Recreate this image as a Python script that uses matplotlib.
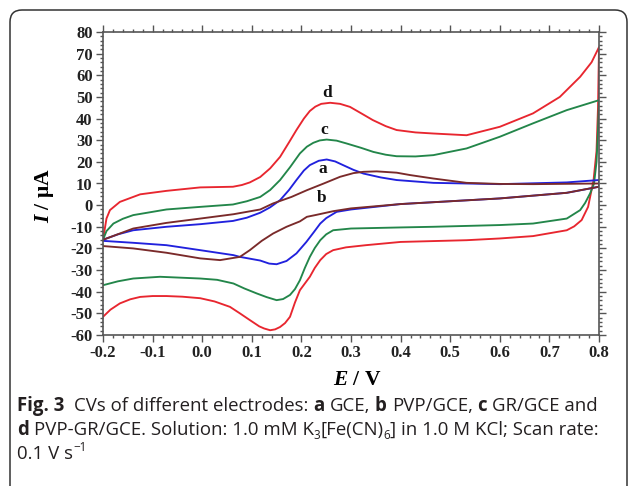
import matplotlib
matplotlib.use('Agg')
import matplotlib.pyplot as plt
from matplotlib.patches import FancyBboxPatch
from matplotlib.ticker import AutoMinorLocator
from matplotlib.transforms import IdentityTransform

plt.rcParams['axes.unicode_minus'] = False
plt.rcParams['mathtext.fontset'] = 'custom'
plt.rcParams['mathtext.it'] = 'Liberation Serif:italic:bold'
plt.rcParams['mathtext.rm'] = 'Liberation Serif:bold'

# ---- data (E in V, I in uA) ----
# d: PVP-GR/GCE (red)
d_E_fwd = [-0.2, -0.193, -0.186, -0.166, -0.125, -0.072, -0.004, 0.062, 0.08, 0.096, 0.117, 0.137,
           0.157, 0.175, 0.19, 0.205, 0.217, 0.228, 0.24, 0.258, 0.278, 0.298, 0.32, 0.344, 0.37,
           0.392, 0.43, 0.466, 0.533, 0.6, 0.667, 0.721, 0.762, 0.785, 0.8]
d_I_fwd = [-16, -6.2, -2.3, 1.5, 5.0, 6.6, 8.2, 8.5, 9.3, 10.5, 13, 17,
           22.3, 29, 34.7, 40, 43.5, 45.5, 46.8, 47.3, 46.8, 45.4, 42.5, 39.3, 36.5,
           34.7, 33.6, 33.1, 32.3, 36.2, 42.4, 50, 59.3, 66, 73]
d_E_rev = [0.8, 0.798, 0.795, 0.789, 0.778, 0.765, 0.75, 0.735, 0.667, 0.6, 0.533, 0.4, 0.33, 0.29,
           0.264, 0.25, 0.238, 0.227, 0.217, 0.207, 0.197, 0.187, 0.177, 0.167, 0.157, 0.147, 0.137,
           0.125, 0.115, 0.096, 0.076, 0.056, 0.025, -0.004, -0.04, -0.072, -0.1, -0.125, -0.145,
           -0.166, -0.185, -0.2]
d_I_rev = [73, 45, 25, 11.5, -0.8, -6.9, -9.8, -11.6, -14.3, -15.4, -16.2, -17, -18.5, -19.5,
           -20.8, -22.6, -25.4, -29, -33.1, -36.2, -39.3, -45, -51.6, -54.5, -56.3, -57.4, -57.8,
           -57, -56, -53.1, -50, -47, -44.5, -43, -42.3, -42, -42, -42.4, -43.5,
           -45.4, -48.3, -51.6]

# c: GR/GCE (green)
c_E_fwd = [-0.2, -0.193, -0.179, -0.16, -0.139, -0.072, -0.004, 0.062, 0.09, 0.117, 0.137, 0.157,
           0.177, 0.197, 0.211, 0.224, 0.237, 0.251, 0.271, 0.291, 0.32, 0.345, 0.37, 0.392, 0.43,
           0.466, 0.533, 0.6, 0.667, 0.735, 0.8]
c_I_fwd = [-16, -12, -8.5, -6.3, -4.6, -2, -0.8, 0.3, 1.8, 3.8, 7, 11.6,
           17.5, 23.9, 27, 28.8, 29.9, 30.3, 29.8, 28.5, 26.5, 24.6, 23.3, 22.6, 22.5,
           23.1, 26.2, 31.6, 37.8, 43.9, 48.5]
c_E_rev = [0.8, 0.798, 0.795, 0.79, 0.782, 0.772, 0.762, 0.735, 0.667, 0.6, 0.466, 0.4, 0.3, 0.264,
           0.25, 0.238, 0.227, 0.217, 0.207, 0.197, 0.187, 0.177, 0.163, 0.15, 0.13, 0.11, 0.085,
           0.063, 0.03, -0.004, -0.085, -0.139, -0.17, -0.2]
c_I_rev = [48.5, 35, 20, 10, 5.4, 1, -2.3, -6.2, -8.5, -9.2, -10, -10.3, -10.8, -11.6,
           -13.5, -16.2, -19.8, -23.9, -29, -34.7, -38.8, -41.5, -43.4, -43.9, -42.5, -40.8, -38.5,
           -36.2, -34.5, -33.9, -33.1, -33.9, -35.2, -37]

# a: GCE (blue)
a_E_fwd = [-0.2, -0.17, -0.139, -0.072, -0.004, 0.062, 0.09, 0.117, 0.137, 0.157, 0.175, 0.19,
           0.205, 0.217, 0.235, 0.251, 0.268, 0.284, 0.305, 0.325, 0.36, 0.392, 0.466, 0.6, 0.735,
           0.8]
a_I_fwd = [-16, -13.5, -11.6, -10, -8.8, -7.3, -5.8, -3.5, -1, 2.3, 7, 11.6,
           16, 18.5, 20.5, 21.1, 20.2, 18.5, 16.3, 14.6, 12.8, 11.6, 10.3, 9.7, 10.5,
           11.6]
a_E_rev = [0.8, 0.735, 0.6, 0.5, 0.4, 0.3, 0.271, 0.25, 0.238, 0.225, 0.21, 0.19, 0.17, 0.15,
           0.135, 0.117, 0.076, 0.063, -0.004, -0.072, -0.139, -0.2]
a_I_rev = [8.5, 5.7, 3.1, 1.8, 0.5, -2, -3.1, -6, -8.5, -12.5, -17, -22.3, -25.8, -27.3,
           -27, -25.6, -23.9, -23.1, -20.8, -18.5, -17.4, -16.5]

# b: PVP/GCE (brown)
b_E_fwd = [-0.2, -0.139, -0.072, -0.004, 0.063, 0.117, 0.143, 0.18, 0.211, 0.245, 0.278, 0.305,
           0.325, 0.352, 0.392, 0.419, 0.466, 0.533, 0.6, 0.667, 0.8]
b_I_fwd = [-16, -10.8, -8.2, -6.2, -4.2, -2, 0.8, 3.8, 6.9, 10, 13.1, 14.8,
           15.4, 15.6, 15.0, 13.9, 12.3, 10.3, 9.8, 9.7, 10]
b_E_rev = [0.8, 0.735, 0.6, 0.5, 0.4, 0.3, 0.264, 0.23, 0.211, 0.197, 0.17, 0.143, 0.12, 0.096,
           0.076, 0.036, -0.004, -0.072, -0.139, -0.2]
b_I_rev = [8.5, 5.7, 3.1, 1.8, 0.5, -1.5, -2.8, -4.5, -5.4, -7.5, -10, -13.1, -16.5, -20.8,
           -23.9, -25.4, -24.6, -22, -20, -18.9]

curves = [
    ('d', '#e8262f', d_E_fwd + d_E_rev, d_I_fwd + d_I_rev, (0.251, 51.6)),
    ('c', '#23864a', c_E_fwd + c_E_rev, c_I_fwd + c_I_rev, (0.246, 34.7)),
    ('a', '#2121dd', a_E_fwd + a_E_rev, a_I_fwd + a_I_rev, (0.244, 16.5)),
    ('b', '#7a2a2a', b_E_fwd + b_E_rev, b_I_fwd + b_I_rev, (0.241, 3.1)),
]

x_ticks = [-0.2, -0.1, 0.0, 0.1, 0.2, 0.3, 0.4, 0.5, 0.6, 0.7, 0.8]
x_labels = ['-0.2', '-0.1', '0.0', '0.1', '0.2', '0.3', '0.4', '0.5', '0.6', '0.7', '0.8']
y_ticks = list(range(-60, 81, 10))

caption = [
    [('Fig. 3  ', 'bold', ''), ('CVs of different electrodes: ', 'normal', ''), ('a ', 'bold', ''),
     ('GCE, ', 'normal', ''), ('b ', 'bold', ''), ('PVP/GCE, ', 'normal', ''), ('c ', 'bold', ''),
     ('GR/GCE and', 'normal', '')],
    [('d ', 'bold', ''), ('PVP-GR/GCE. Solution: 1.0 mM K', 'normal', ''), ('3', 'normal', 'sub'),
     ('[Fe(CN)', 'normal', ''), ('6', 'normal', 'sub'), ('] in 1.0 M KCl; Scan rate:', 'normal', '')],
    [('0.1 V s', 'normal', ''), ('\u22121', 'normal', 'sup')],
]

SERIF = 'Liberation Serif'
CAP_FONT = 'Open Sans'
CAP_COLOR = '#231f20'

fig = plt.figure(figsize=(6.3, 4.86), dpi=100)
ax = fig.add_axes([103 / 630, 1 - 335 / 486, 496 / 630, 303 / 486])

for name, color, E, I, lab in curves:
    ax.plot(E, I, color=color, lw=1.35, solid_joinstyle='round')
    ax.text(lab[0], lab[1], name, fontsize=12.5, fontweight='bold', family=SERIF,
            ha='center', va='center', color='#111111')

ax.set_xlim(-0.2, 0.8)
ax.set_ylim(-60, 80)
ax.set_xticks(x_ticks)
ax.set_xticklabels(x_labels)
ax.set_yticks(y_ticks)
ax.xaxis.set_minor_locator(AutoMinorLocator(5))
ax.yaxis.set_minor_locator(AutoMinorLocator(5))
ax.tick_params(which='both', direction='out', top=True, right=True, color='#555555', width=1)
ax.tick_params(which='major', length=5, labelsize=12, pad=2.5)
ax.tick_params(which='minor', length=2.5)
for lbl in ax.get_xticklabels() + ax.get_yticklabels():
    lbl.set_family(SERIF)
    lbl.set_fontweight('bold')
    lbl.set_color('#222222')
for sp in ax.spines.values():
    sp.set_color('#555555')
    sp.set_linewidth(1.2)

ax.text(0.512, -0.15, r'$E$ / V', transform=ax.transAxes, ha='center', va='center',
        fontsize=15.5, fontweight='bold', family=SERIF)
ax.text(-0.118, 0.46, r'$I$ / μA', transform=ax.transAxes, ha='center', va='center',
        fontsize=15.5, fontweight='bold', family=SERIF, rotation=90)

# rounded frame around figure + caption (open at the bottom)
frame = FancyBboxPatch((10, -30), 617, 486 - 10 + 30, boxstyle='round,pad=0,rounding_size=12',
                       transform=IdentityTransform(), fill=False, ec='#333333', lw=1.1)
fig.patches.append(frame)

renderer = fig.canvas.get_renderer()


def chunk_texts(line, x, y, size, draw=True):
    probe_a = fig.text(0, 0, 'aa', fontsize=size, family=CAP_FONT, transform=IdentityTransform())
    probe_b = fig.text(0, 0, 'a a', fontsize=size, family=CAP_FONT, transform=IdentityTransform())
    space_w = probe_b.get_window_extent(renderer).width - probe_a.get_window_extent(renderer).width
    probe_a.remove()
    probe_b.remove()
    px = size * 100 / 72
    made = []
    for txt, weight, kind in line:
        core = txt.rstrip(' ')
        n_sp = len(txt) - len(core)
        fs = size
        dy = 0
        if kind == 'sub':
            fs = size * 0.62
            dy = -0.22 * px
        elif kind == 'sup':
            fs = size * 0.62
            dy = 0.42 * px
        t = fig.text(x, y + dy, core, fontsize=fs, fontweight=weight, family=CAP_FONT,
                     color=CAP_COLOR, transform=IdentityTransform(), ha='left', va='baseline')
        made.append(t)
        x += t.get_window_extent(renderer).width + n_sp * space_w
    if not draw:
        for t in made:
            t.remove()
    return x


base_size = 12
w1 = chunk_texts(caption[0], 0, 0, base_size, draw=False)
cap_size = base_size * 581 / w1

baselines = [411, 435, 459]
for line, yb in zip(caption, baselines):
    chunk_texts(line, 17, 486 - yb, cap_size)

fig.savefig('out.png', dpi=100)
